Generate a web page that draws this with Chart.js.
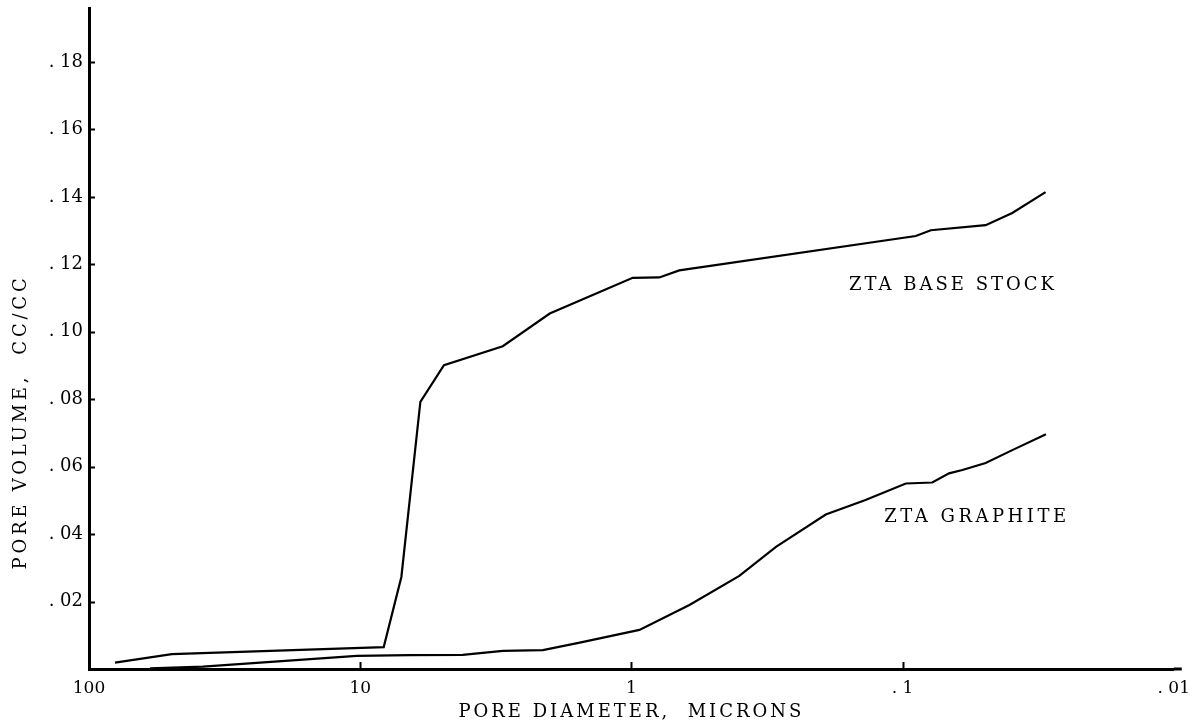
<!DOCTYPE html>
<html>
<head>
<meta charset="utf-8">
<script src="https://cdn.jsdelivr.net/npm/chart.js@4.4.1/dist/chart.umd.min.js"></script>
<style>
  html, body { margin: 0; padding: 0; background: #fff; }
  #wrap { width: 1199px; height: 723px; }
</style>
</head>
<body>
<div id="wrap"><canvas id="c" width="1199" height="723"></canvas></div>
<script>
// ---- data ----
const baseStockDiameter = [80.2, 49.5, 8.19, 7.05, 6.00, 4.91, 2.98, 2.00, 0.989, 0.789, 0.666, 0.0894, 0.0787, 0.0494, 0.0394, 0.0297];
const baseStockVolume   = [0.0019, 0.0044, 0.0065, 0.0273, 0.0792, 0.0901, 0.0957, 0.1054, 0.1160, 0.1161, 0.1182, 0.1284, 0.1301, 0.1316, 0.1352, 0.1414];

const graphiteDiameter = [59.6, 38.0, 10.3, 6.57, 4.19, 2.98, 2.12, 1.55, 0.934, 0.611, 0.400, 0.293, 0.192, 0.137, 0.0973, 0.0777, 0.0674, 0.0602, 0.0494, 0.0394, 0.0296];
const graphiteVolume   = [0.0002, 0.0007, 0.0039, 0.0041, 0.0042, 0.0054, 0.0056, 0.0078, 0.0116, 0.0190, 0.0276, 0.0362, 0.0458, 0.0501, 0.0550, 0.0553, 0.0580, 0.0590, 0.0611, 0.0649, 0.0696];

const xTickValues = [100, 10, 1, 0.1, 0.01];
const xTickLabels = ["100", "10", "1", ". 1", ". 01"];
const yTickValues = [0.02, 0.04, 0.06, 0.08, 0.10, 0.12, 0.14, 0.16, 0.18];
const yTickLabels = [". 02", ". 04", ". 06", ". 08", ". 10", ". 12", ". 14", ". 16", ". 18"];

const seriesNames = ["ZTA BASE STOCK", "ZTA GRAPHITE"];
const seriesLabelAt = [[0.0652, 0.1138], [0.0532, 0.0451]]; // [diameter, volume] anchor (center) of in-plot label

const xTitle = "PORE DIAMETER,  MICRONS";
const yTitle = "PORE VOLUME,  CC/CC";

// ---- build ----
const toPts = (xs, ys) => xs.map((x, i) => ({ x: x, y: ys[i] }));
const FONT = "'DejaVu Serif', 'Liberation Serif', serif";

const overlay = {
  id: 'overlay',
  afterDraw(chart) {
    const ctx = chart.ctx;
    const xs = chart.scales.x, ys = chart.scales.y;
    const a = chart.chartArea;
    ctx.save();
    ctx.strokeStyle = '#000';
    ctx.lineWidth = 2;
    // inside stub ticks on y axis
    yTickValues.forEach(v => {
      const py = Math.round(ys.getPixelForValue(v)) + 0.5;
      ctx.beginPath(); ctx.moveTo(a.left, py); ctx.lineTo(a.left + 6, py); ctx.stroke();
    });
    // inside stub ticks on x axis
    xTickValues.slice(1, 4).forEach(v => {
      const px = Math.round(xs.getPixelForValue(v)) + 0.5;
      ctx.beginPath(); ctx.moveTo(px, a.bottom); ctx.lineTo(px, a.bottom - 7); ctx.stroke();
    });
    // extend x axis line slightly past last decade
    ctx.lineWidth = 3;
    ctx.beginPath(); ctx.moveTo(a.right, a.bottom); ctx.lineTo(a.right + 8, a.bottom); ctx.stroke();

    ctx.fillStyle = '#000';
    ctx.textAlign = 'center';
    ctx.textBaseline = 'middle';
    // series labels
    ctx.font = "18px " + FONT;
    ctx.letterSpacing = '3px';
    ctx.fillText(seriesNames[0], xs.getPixelForValue(seriesLabelAt[0][0]), ys.getPixelForValue(seriesLabelAt[0][1]));
    ctx.letterSpacing = '3.5px';
    ctx.fillText(seriesNames[1], xs.getPixelForValue(seriesLabelAt[1][0]), ys.getPixelForValue(seriesLabelAt[1][1]));
    // x title
    ctx.letterSpacing = '3px';
    ctx.fillText(xTitle, (a.left + a.right) / 2, 712);
    // y title (rotated)
    ctx.save();
    ctx.translate(21, 422);
    ctx.rotate(-Math.PI / 2);
    ctx.letterSpacing = '3.8px';
    ctx.fillText(yTitle, 0, 0);
    ctx.restore();
    ctx.restore();
  }
};

new Chart(document.getElementById('c'), {
  type: 'scatter',
  data: {
    datasets: [
      { label: seriesNames[0], data: toPts(baseStockDiameter, baseStockVolume), showLine: true, borderColor: '#000', borderWidth: 2.2, pointRadius: 0, tension: 0, fill: false },
      { label: seriesNames[1], data: toPts(graphiteDiameter, graphiteVolume), showLine: true, borderColor: '#000', borderWidth: 2.2, pointRadius: 0, tension: 0, fill: false }
    ]
  },
  options: {
    responsive: false,
    devicePixelRatio: 1,
    animation: false,
    layout: { padding: { left: 0, right: 24, top: 8, bottom: 0 } },
    plugins: { legend: { display: false }, tooltip: { enabled: false } },
    scales: {
      x: {
        type: 'logarithmic',
        reverse: true,
        min: 0.01, max: 100,
        afterBuildTicks: s => { s.ticks = xTickValues.map(v => ({ value: v })); },
        afterFit: s => { s.height = 54; },
        grid: { display: false, drawTicks: false },
        border: { display: true, color: '#000', width: 3 },
        ticks: {
          color: '#000', padding: 9, maxRotation: 0, autoSkip: false,
          font: { family: FONT, size: 17 },
          callback: (v) => { const i = xTickValues.indexOf(v); return i >= 0 ? xTickLabels[i] : ''; }
        }
      },
      y: {
        type: 'linear',
        min: 0, max: 0.196,
        afterBuildTicks: s => { s.ticks = yTickValues.map(v => ({ value: v })); },
        afterFit: s => { s.width = 89; s.paddingTop = 0; s.paddingBottom = 0; },
        grid: { display: false, drawTicks: false },
        border: { display: true, color: '#000', width: 3 },
        ticks: {
          color: '#000', padding: 6, autoSkip: false,
          font: { family: FONT, size: 18 },
          callback: (v) => { const i = yTickValues.findIndex(t => Math.abs(t - v) < 1e-9); return i >= 0 ? yTickLabels[i] : ''; }
        }
      }
    }
  },
  plugins: [overlay]
});
</script>
</body>
</html>
